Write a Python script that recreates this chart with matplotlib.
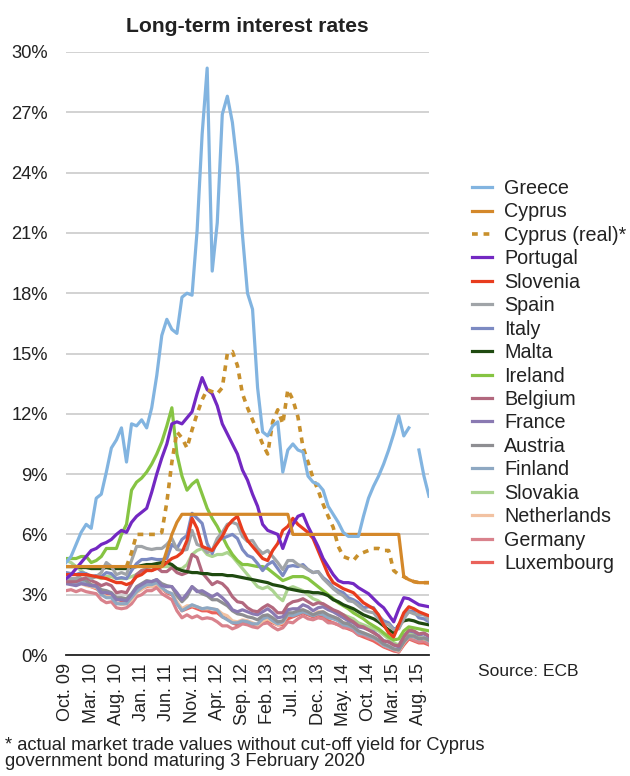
import numpy as np
import matplotlib
matplotlib.use("Agg")
import matplotlib.pyplot as plt

plt.rcParams['font.family'] = ['Liberation Sans', 'DejaVu Sans']

nan = np.nan
# monthly observations Oct 2009 .. Oct 2015
tick_labels = ["Oct. 09", "Mar. 10", "Aug. 10", "Jan. 11", "Jun. 11", "Nov. 11", "Apr. 12",
               "Sep. 12", "Feb. 13", "Jul. 13", "Dec. 13", "May. 14", "Oct. 14", "Mar. 15", "Aug. 15"]

greece = [4.6, 4.9, 5.5, 6.1, 6.5, 6.3, 7.8, 8.0, 9.1, 10.3, 10.7, 11.3, 9.6, 11.5, 11.4, 11.7, 11.3,
          12.3, 13.9, 15.9, 16.7, 16.2, 16.0, 17.8, 18.0, 17.9, 21.1, 25.9, 29.2, 19.1, 21.5, 26.9,
          27.8, 26.5, 24.3, 20.9, 18.0, 17.2, 13.3, 11.1, 10.9, 11.4, 11.6, 9.1, 10.2, 10.5, 10.2,
          10.1, 8.9, 8.6, 8.5, 8.2, 7.4, 7.0, 6.6, 6.1, 5.9, 5.9, 5.9, 6.9, 7.8, 8.4, 8.9, 9.5,
          10.2, 11.0, 11.9, 10.9, 11.3, nan, 10.2, 8.9, 7.9]
cyprus = [4.4] * 19 + [4.4, 5.2, 6.0, 6.6] + [7.0] * 22 + [6.0] + [6.0] * 21 + \
         [3.9, 3.75, 3.65, 3.6, 3.6, 3.6]
cyprus_real = [nan] * 12 + [4.4, 5.1, 6.0, 6.0, 6.0, 6.0, 6.0, 6.1, 7.6, 9.6, 11.1, 10.8, 10.3,
               11.2, 12.0, 12.7, 13.2, 13.1, 13.0, 13.3, 15.0, 15.1, 14.4, 13.0, 12.3, 11.7, 11.1,
               10.5, 10.0, 11.6, 12.2, 11.5, 13.2, 12.7, 11.85, 10.35, 9.6, 8.8, 8.2, 7.5, 6.9,
               6.35, 5.4, 4.9, 4.8, 4.7, 5.0, 5.1, 5.2, 5.3, 5.3, 5.2, 5.2, 4.2, 4.0, 3.9, 3.75,
               3.65, 3.6, 3.6, 3.6]
portugal = [3.8, 4.0, 4.3, 4.6, 4.9, 5.2, 5.3, 5.5, 5.6, 5.75, 6.0, 6.2, 6.1, 6.6, 6.9, 7.1, 7.3,
            8.1, 9.0, 9.8, 10.5, 11.5, 11.6, 11.5, 11.8, 12.1, 13.0, 13.8, 13.2, 13.0, 12.4, 11.5,
            11.0, 10.5, 10.0, 9.2, 8.7, 8.0, 7.4, 6.5, 6.2, 6.1, 6.0, 5.3, 6.0, 6.5, 6.9, 7.0,
            6.4, 5.9, 5.4, 4.8, 4.4, 4.0, 3.7, 3.6, 3.6, 3.55, 3.35, 3.2, 3.05, 2.8, 2.55, 2.35,
            2.0, 1.65, 2.3, 2.85, 2.8, 2.65, 2.5, 2.45, 2.4]
slovenia = [4.0, 4.0, 4.0, 4.0, 4.0, 3.95, 3.9, 3.85, 3.8, 3.7, 3.6, 3.6, 3.5, 3.6, 3.9, 4.0, 4.2,
            4.2, 4.3, 4.4, 4.6, 4.8, 4.9, 5.1, 5.7, 6.8, 6.3, 5.4, 5.3, 5.2, 5.55, 5.9, 6.4, 6.7,
            6.9, 6.2, 5.7, 5.4, 5.1, 4.8, 4.7, 5.2, 5.55, 6.2, 6.4, 6.8, 6.5, 6.3, 6.1, 5.8, 5.2,
            4.6, 4.0, 3.6, 3.45, 3.3, 3.2, 3.1, 2.85, 2.6, 2.45, 2.3, 2.0, 1.5, 1.1, 0.9, 1.5,
            2.1, 2.4, 2.3, 2.15, 2.05, 1.95]
spain = [3.8, 3.8, 3.8, 4.0, 4.0, 3.8, 3.9, 4.1, 4.6, 4.4, 4.0, 4.1, 4.0, 4.7, 5.4, 5.4, 5.3,
         5.25, 5.3, 5.3, 5.5, 5.8, 5.25, 5.2, 5.25, 6.2, 5.5, 5.4, 5.1, 5.2, 5.8, 6.1, 6.5, 6.6,
         6.5, 5.9, 5.65, 5.7, 5.3, 5.05, 5.2, 4.9, 4.6, 4.25, 4.7, 4.7, 4.5, 4.4, 4.25, 4.1, 4.15,
         3.8, 3.55, 3.3, 3.1, 2.95, 2.7, 2.65, 2.45, 2.25, 2.15, 2.1, 1.8, 1.55, 1.5, 1.25, 1.3,
         1.8, 2.15, 2.05, 2.0, 2.0, 1.75]
italy = [4.1, 4.05, 4.0, 4.1, 4.05, 3.9, 3.95, 3.9, 4.1, 4.05, 3.8, 3.85, 3.8, 4.2, 4.55, 4.75,
         4.75, 4.8, 4.75, 4.75, 4.8, 5.5, 5.3, 5.75, 5.95, 7.05, 6.8, 6.55, 5.55, 5.05, 5.7, 5.8,
         5.9, 6.0, 5.8, 5.25, 4.95, 4.85, 4.55, 4.2, 4.5, 4.65, 4.3, 3.95, 4.4, 4.45, 4.4, 4.5,
         4.25, 4.1, 4.15, 3.85, 3.65, 3.35, 3.2, 3.1, 2.85, 2.75, 2.6, 2.35, 2.4, 2.35, 1.95, 1.7,
         1.6, 1.3, 1.35, 1.85, 2.2, 2.15, 1.85, 1.8, 1.65]
malta = [4.4, 4.4, 4.4, 4.35, 4.35, 4.3, 4.3, 4.3, 4.35, 4.3, 4.3, 4.3, 4.3, 4.35, 4.4, 4.45, 4.5,
         4.5, 4.55, 4.6, 4.6, 4.5, 4.3, 4.2, 4.15, 4.1, 4.1, 4.05, 4.05, 4.0, 4.0, 4.0, 3.95, 3.95,
         3.9, 3.85, 3.8, 3.75, 3.7, 3.65, 3.6, 3.5, 3.45, 3.4, 3.3, 3.25, 3.2, 3.15, 3.15, 3.1,
         3.1, 3.05, 2.95, 2.75, 2.65, 2.5, 2.4, 2.3, 2.15, 2.0, 1.9, 1.8, 1.65, 1.45, 1.25, 1.1,
         1.5, 1.7, 1.75, 1.7, 1.6, 1.55, 1.5]
ireland = [4.8, 4.8, 4.8, 4.9, 4.9, 4.6, 4.7, 4.9, 5.3, 5.3, 5.3, 6.0, 6.5, 8.2, 8.6, 8.8, 9.1,
           9.5, 10.0, 10.6, 11.4, 12.3, 10.0, 8.9, 8.2, 8.5, 8.7, 8.0, 7.3, 6.8, 6.4, 5.9, 5.4,
           5.0, 4.7, 4.5, 4.5, 4.45, 4.4, 4.4, 4.3, 4.1, 3.9, 3.7, 3.8, 3.9, 3.9, 3.9, 3.8, 3.6,
           3.4, 3.2, 3.0, 2.8, 2.6, 2.45, 2.3, 2.1, 1.95, 1.8, 1.6, 1.45, 1.3, 1.1, 0.9, 0.75,
           0.8, 1.2, 1.4, 1.35, 1.3, 1.25, 1.2]
belgium = [3.65, 3.65, 3.65, 3.75, 3.85, 3.7, 3.6, 3.45, 3.55, 3.45, 3.1, 3.15, 3.1, 3.55, 4.0,
           4.2, 4.25, 4.2, 4.35, 4.15, 4.15, 4.35, 4.1, 4.0, 4.1, 5.0, 4.85, 4.1, 3.8, 3.5, 3.65,
           3.55, 3.3, 2.9, 2.65, 2.6, 2.35, 2.2, 2.15, 2.35, 2.5, 2.35, 2.1, 2.1, 2.5, 2.65, 2.7,
           2.8, 2.65, 2.5, 2.6, 2.55, 2.4, 2.25, 2.15, 2.0, 1.8, 1.65, 1.45, 1.4, 1.25, 1.1, 0.95,
           0.7, 0.65, 0.5, 0.45, 0.9, 1.25, 1.2, 1.05, 1.1, 0.95]
france = [3.55, 3.5, 3.45, 3.55, 3.5, 3.45, 3.45, 3.1, 3.1, 3.05, 2.75, 2.75, 2.7, 3.0, 3.35,
          3.5, 3.65, 3.65, 3.75, 3.45, 3.4, 3.4, 3.1, 2.75, 3.05, 3.4, 3.15, 3.2, 3.05, 2.9, 3.05,
          2.85, 2.6, 2.25, 2.15, 2.25, 2.15, 2.05, 2.0, 2.15, 2.3, 2.1, 1.85, 1.9, 2.25, 2.3, 2.3,
          2.5, 2.4, 2.2, 2.35, 2.4, 2.25, 2.15, 2.0, 1.85, 1.7, 1.6, 1.4, 1.35, 1.25, 1.15, 0.95,
          0.7, 0.65, 0.5, 0.4, 0.95, 1.2, 1.15, 1.0, 1.05, 0.9]
austria = [3.65, 3.7, 3.7, 3.8, 3.7, 3.5, 3.45, 3.25, 3.2, 3.1, 2.85, 2.85, 2.8, 3.05, 3.4, 3.55,
           3.7, 3.65, 3.75, 3.55, 3.45, 3.4, 2.95, 2.65, 2.9, 3.4, 3.2, 3.05, 2.95, 2.75, 2.75,
           2.6, 2.45, 2.2, 2.05, 2.0, 1.9, 1.85, 1.75, 1.95, 2.0, 1.85, 1.65, 1.7, 2.1, 2.1, 2.2,
           2.25, 2.15, 2.0, 2.1, 2.15, 2.0, 1.9, 1.8, 1.6, 1.55, 1.4, 1.2, 1.1, 1.0, 0.9, 0.75,
           0.55, 0.45, 0.3, 0.25, 0.65, 0.95, 0.95, 0.8, 0.85, 0.75]
finland = [3.6, 3.6, 3.55, 3.65, 3.55, 3.45, 3.4, 3.0, 2.85, 2.85, 2.55, 2.55, 2.55, 2.85, 3.15,
           3.35, 3.5, 3.5, 3.6, 3.35, 3.15, 3.05, 2.55, 2.2, 2.35, 2.5, 2.4, 2.3, 2.35, 2.3, 2.25,
           1.9, 1.75, 1.6, 1.6, 1.7, 1.65, 1.55, 1.55, 1.8, 1.9, 1.7, 1.55, 1.65, 2.0, 1.95, 2.05,
           2.15, 2.05, 1.95, 2.05, 2.0, 1.85, 1.8, 1.7, 1.5, 1.45, 1.35, 1.1, 1.05, 0.95, 0.85,
           0.7, 0.5, 0.4, 0.3, 0.25, 0.65, 0.95, 0.9, 0.8, 0.85, 0.7]
slovakia = [4.7, 4.6, 4.4, 4.2, 4.0, 3.9, 3.9, 3.8, 3.9, 3.9, 3.8, 3.8, 3.8, 3.9, 4.0, 4.2, 4.3,
            4.4, 4.5, 4.4, 4.4, 4.4, 4.3, 4.3, 4.5, 5.0, 5.2, 5.3, 5.0, 4.9, 5.0, 5.0, 5.1, 4.9,
            4.6, 4.3, 4.0, 3.7, 3.4, 3.3, 3.4, 3.2, 2.9, 2.7, 3.3, 3.4, 3.3, 3.2, 3.0, 2.8, 2.7,
            2.5, 2.3, 2.2, 2.1, 2.0, 1.9, 1.8, 1.6, 1.5, 1.4, 1.3, 1.2, 1.0, 0.8, 0.6, 0.5, 0.9,
            1.1, 1.0, 0.9, 0.8, 0.8]
netherlands = [3.6, 3.55, 3.5, 3.55, 3.45, 3.4, 3.35, 3.05, 2.9, 2.9, 2.6, 2.5, 2.55, 2.75, 3.1,
               3.25, 3.45, 3.4, 3.55, 3.3, 3.15, 3.05, 2.65, 2.3, 2.45, 2.45, 2.4, 2.3, 2.3, 2.3,
               2.25, 2.05, 1.95, 1.7, 1.65, 1.75, 1.7, 1.6, 1.5, 1.7, 1.8, 1.65, 1.5, 1.6, 2.0,
               2.0, 2.15, 2.25, 2.1, 2.0, 2.15, 2.15, 1.95, 1.9, 1.8, 1.6, 1.55, 1.4, 1.15, 1.1,
               1.0, 0.85, 0.7, 0.5, 0.4, 0.3, 0.2, 0.6, 0.95, 0.9, 0.8, 0.85, 0.7]
germany = [3.2, 3.25, 3.15, 3.25, 3.15, 3.1, 3.05, 2.75, 2.6, 2.65, 2.35, 2.3, 2.35, 2.55, 2.9,
           3.0, 3.2, 3.2, 3.35, 3.05, 2.9, 2.75, 2.2, 1.85, 2.0, 1.85, 1.95, 1.8, 1.85, 1.8, 1.65,
           1.45, 1.45, 1.3, 1.4, 1.55, 1.5, 1.4, 1.35, 1.55, 1.6, 1.4, 1.25, 1.35, 1.65, 1.6, 1.8,
           1.95, 1.8, 1.75, 1.85, 1.8, 1.6, 1.6, 1.5, 1.35, 1.35, 1.2, 1.0, 1.0, 0.85, 0.8, 0.65,
           0.45, 0.35, 0.25, 0.15, 0.6, 0.85, 0.75, 0.65, 0.7, 0.55]
luxembourg = [3.6, 3.6, 3.6, 3.6, 3.5, 3.4, 3.3, 3.1, 3.0, 3.0, 2.8, 2.7, 2.7, 2.9, 3.2, 3.3,
              3.4, 3.4, 3.5, 3.3, 3.1, 3.0, 2.6, 2.2, 2.3, 2.4, 2.3, 2.2, 2.2, 2.1, 2.1, 1.9, 1.8,
              1.6, 1.5, 1.6, 1.6, 1.5, 1.4, 1.6, 1.7, 1.6, 1.5, 1.5, 1.8, 1.9, 2.0, 2.1, 2.0, 1.9,
              2.0, 1.9, 1.7, 1.6, 1.5, 1.4, 1.3, 1.2, 1.0, 0.9, 0.8, 0.7, 0.55, 0.4, 0.3, 0.2,
              0.15, 0.5, 0.8, 0.7, 0.6, 0.6, 0.5]

series = [
    ("Greece", greece, "#82b4e0", "-"),
    ("Cyprus", cyprus, "#d4882a", "-"),
    ("Cyprus (real)*", cyprus_real, "#c8902c", ":"),
    ("Portugal", portugal, "#7328c2", "-"),
    ("Slovenia", slovenia, "#e83c1e", "-"),
    ("Spain", spain, "#a0a4a8", "-"),
    ("Italy", italy, "#7c8ac2", "-"),
    ("Malta", malta, "#1f4a10", "-"),
    ("Ireland", ireland, "#86c443", "-"),
    ("Belgium", belgium, "#b2687e", "-"),
    ("France", france, "#8a7ab2", "-"),
    ("Austria", austria, "#8e8e92", "-"),
    ("Finland", finland, "#8ea8c2", "-"),
    ("Slovakia", slovakia, "#acd490", "-"),
    ("Netherlands", netherlands, "#f2c2a2", "-"),
    ("Germany", germany, "#d9828c", "-"),
    ("Luxembourg", luxembourg, "#ea625a", "-"),
]

W, H = 630, 776
fig = plt.figure(figsize=(W / 100, H / 100), dpi=100)
L, R, T, B = 66, 429, 52, 655
ax = fig.add_axes([L / W, 1 - B / H, (R - L) / W, (B - T) / H])

x = np.arange(73)
handles = {}
for name, vals, col, ls in reversed(series):
    assert len(vals) == 73, name
    if ls == ":":
        ln, = ax.plot(x, vals, color=col, lw=2.6, linestyle=(0, (1.6, 1.6)), label=name,
                      solid_capstyle='butt')
    else:
        ln, = ax.plot(x, vals, color=col, lw=2.3, label=name, solid_joinstyle='round')
    handles[name] = ln

ax.set_xlim(0, 72)
ax.set_ylim(0, 30)
ax.set_yticks(np.arange(0, 31, 3))
ax.set_yticklabels([f"{v}%" for v in range(0, 31, 3)])
ax.set_xticks(np.arange(0, 71, 5))
ax.set_xticklabels(tick_labels, rotation=90)
ax.grid(axis='y', color='#cfcfcf', lw=1.3)
ax.set_axisbelow(True)
for s in ['left', 'right', 'top']:
    ax.spines[s].set_visible(False)
ax.spines['bottom'].set_color('#222222')
ax.spines['bottom'].set_linewidth(1.3)
ax.tick_params(axis='y', length=0, pad=13, labelsize=13.2, labelcolor='#222222')
ax.tick_params(axis='x', length=0, pad=6, labelsize=13, labelcolor='#222222')
ax.set_facecolor('none')

fig.text(247.5 / W, 1 - 26 / H, "Long-term interest rates", ha='center', va='center',
         fontsize=15.2, fontweight='bold', color='#222222')

leg = ax.legend([handles[n] for n, *_ in series], [n for n, *_ in series],
                loc='upper left', bbox_to_anchor=(472 / W, 1 - 179 / H),
                bbox_transform=fig.transFigure, frameon=False, borderpad=0, borderaxespad=0,
                handlelength=1.0, handletextpad=0.62, labelspacing=0.225, fontsize=14.2)
for t in leg.get_texts():
    t.set_color('#222222')

fig.text(478 / W, 1 - 672 / H, "Source: ECB", ha='left', va='center', fontsize=12.5,
         color='#222222')
fig.text(5 / W, 1 - 745 / H, "* actual market trade values without cut-off yield for Cyprus",
         ha='left', va='center', fontsize=13.2, color='#222222')
fig.text(5 / W, 1 - 762 / H, "government bond maturing 3 February 2020",
         ha='left', va='center', fontsize=13.2, color='#222222')

fig.savefig("out.png", dpi=100)
